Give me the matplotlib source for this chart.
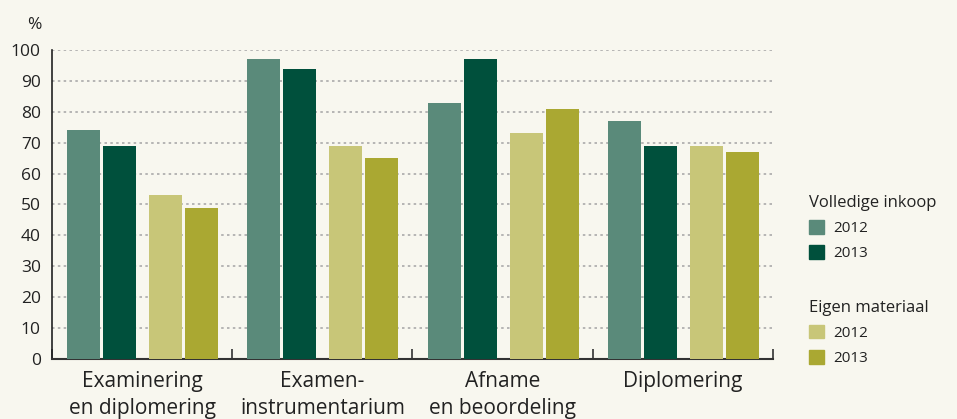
import numpy as np
import matplotlib.pyplot as plt
from matplotlib.patches import Patch

categories = ["Examinering\nen diplomering", "Examen-\ninstrumentarium",
              "Afname\nen beoordeling", "Diplomering"]
vi_2012 = [74, 97, 83, 77]
vi_2013 = [69, 94, 97, 69]
em_2012 = [53, 69, 73, 69]
em_2013 = [49, 65, 81, 67]

bg = "#f8f7ef"
colors = ["#5a8a7a", "#00503c", "#c8c678", "#aaa832"]
series = [vi_2012, vi_2013, em_2012, em_2013]
offsets = [-0.324, -0.125, 0.130, 0.330]
width = 0.183

plt.rcParams['font.family'] = ['Open Sans', 'DejaVu Sans']

fig = plt.figure(figsize=(9.57, 4.19), dpi=100, facecolor=bg)
ax = fig.add_axes([0.0543, 0.1432, 0.7534, 0.7375], facecolor=bg)

x = np.arange(len(categories))
bars = []
for vals, off, c in zip(series, offsets, colors):
    bars.append(ax.bar(x + off, vals, width, color=c, zorder=3))

ax.set_ylim(0, 100)
ax.set_xlim(-0.5, len(categories) - 0.5)
ax.set_yticks(range(0, 101, 10))
for yv in range(10, 101, 10):
    ax.axhline(yv, color="#aaaaaa", lw=1.2, ls=(0, (1.5, 2)), zorder=1)

ax.tick_params(axis="y", length=0, labelsize=12.5, colors="#222222", pad=8)
ax.set_xticks(x)
ax.set_xticklabels(categories, fontsize=15, color="#222222", linespacing=1.35)
ax.tick_params(axis="x", length=0, pad=9)
# group separators on the baseline
ax.set_xticks(np.arange(-0.5, len(categories)), minor=True)
ax.tick_params(axis="x", which="minor", direction="in", length=7, color="#333333", width=1.2)

for s in ["top", "right"]:
    ax.spines[s].set_visible(False)
ax.spines["left"].set_color("#222222")
ax.spines["bottom"].set_color("#333333")
ax.spines["left"].set_linewidth(1.2)
ax.spines["bottom"].set_linewidth(1.5)

fig.text(0.028, 0.93, "%", fontsize=12.5, color="#222222")

def make_legend(title, handles, y):
    leg = fig.legend(handles=handles, labels=["2012", "2013"], title=title,
                     loc="upper left", bbox_to_anchor=(0.845, y), frameon=False,
                     alignment="left", fontsize=11, title_fontsize=12,
                     handlelength=1.0, handleheight=1.0, handletextpad=0.6,
                     labelspacing=0.6, borderpad=0, borderaxespad=0)
    for t in leg.get_texts():
        t.set_color("#222222")
    leg.get_title().set_color("#222222")
    return leg

make_legend("Volledige inkoop", [Patch(color=colors[0]), Patch(color=colors[1])], 0.535)
make_legend("Eigen materiaal", [Patch(color=colors[2]), Patch(color=colors[3])], 0.285)

fig.savefig("out.png", dpi=100, facecolor=bg)
